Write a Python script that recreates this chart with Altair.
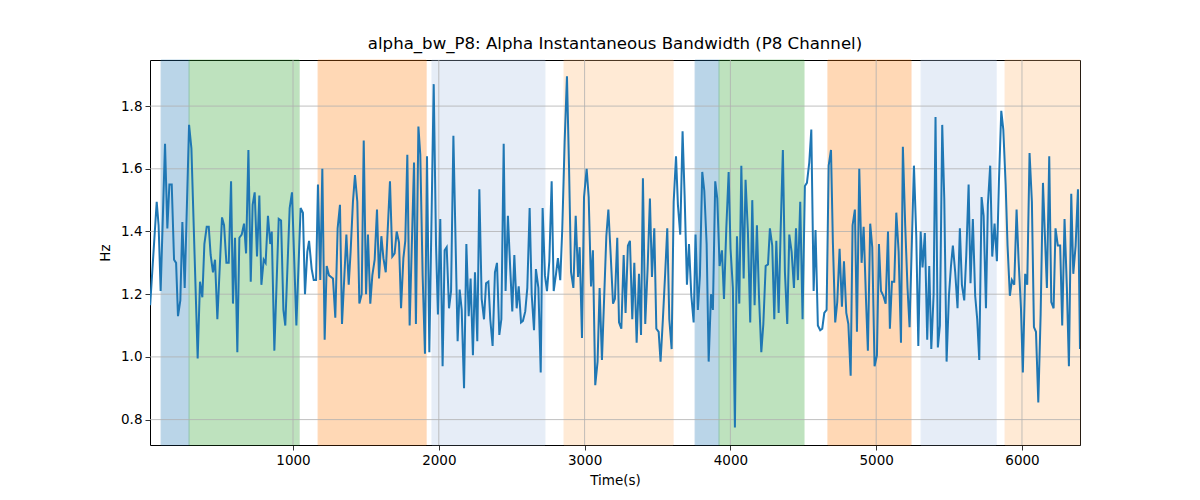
import altair as alt
import pandas as pd

# ---- data ----
time_s = [
    20, 65, 78, 92, 122, 138, 152, 168, 184, 198, 211, 227, 241, 257, 287, 303, 346, 362, 378, 392,
    408, 422, 435, 451, 465, 481, 513, 527, 543, 559, 575, 588, 602, 618, 632, 648, 664, 678, 694, 710,
    723, 737, 753, 769, 783, 799, 812, 828, 844, 854, 872, 902, 918, 934, 947, 977, 993, 1023, 1052, 1068,
    1082, 1098, 1110, 1128, 1142, 1158, 1171, 1187, 1201, 1217, 1231, 1247, 1261, 1274, 1290, 1306, 1322, 1336, 1366, 1382,
    1395, 1411, 1425, 1441, 1455, 1471, 1485, 1501, 1514, 1530, 1544, 1560, 1576, 1590, 1606, 1620, 1636, 1665, 1681, 1697,
    1711, 1727, 1741, 1757, 1770, 1784, 1800, 1830, 1843, 1860, 1873, 1889, 1905, 1919, 1935, 1965, 1981, 1994, 2010, 2026,
    2040, 2054, 2070, 2084, 2100, 2129, 2143, 2157, 2173, 2189, 2205, 2218, 2234, 2248, 2264, 2278, 2294, 2310, 2324, 2340,
    2353, 2369, 2385, 2399, 2415, 2429, 2445, 2458, 2474, 2490, 2504, 2518, 2534, 2548, 2564, 2577, 2593, 2607, 2623, 2637,
    2653, 2666, 2683, 2699, 2712, 2728, 2742, 2758, 2774, 2788, 2804, 2817, 2833, 2847, 2863, 2879, 2893, 2907, 2923, 2939,
    2955, 2966, 2982, 2996, 3014, 3028, 3044, 3057, 3073, 3089, 3103, 3119, 3149, 3163, 3179, 3195, 3208, 3224, 3236, 3252,
    3268, 3281, 3297, 3311, 3327, 3341, 3357, 3373, 3387, 3400, 3416, 3432, 3448, 3462, 3478, 3492, 3508, 3521, 3537, 3553,
    3567, 3581, 3597, 3611, 3627, 3640, 3656, 3672, 3686, 3702, 3716, 3732, 3748, 3761, 3777, 3791, 3807, 3821, 3837, 3851,
    3867, 3880, 3896, 3910, 3926, 3942, 3956, 3972, 3988, 4001, 4017, 4031, 4045, 4061, 4075, 4091, 4104, 4120, 4136, 4150,
    4166, 4182, 4196, 4212, 4226, 4242, 4258, 4271, 4287, 4301, 4315, 4331, 4344, 4360, 4374, 4390, 4404, 4420, 4436, 4450,
    4463, 4479, 4495, 4511, 4525, 4541, 4555, 4571, 4584, 4600, 4616, 4630, 4644, 4660, 4674, 4690, 4703, 4719, 4733, 4749,
    4765, 4779, 4795, 4809, 4825, 4838, 4854, 4868, 4884, 4900, 4914, 4930, 4943, 4959, 4973, 4989, 5005, 5019, 5033, 5049,
    5065, 5081, 5094, 5108, 5124, 5138, 5154, 5170, 5183, 5199, 5215, 5229, 5245, 5259, 5275, 5289, 5305, 5318, 5334, 5350,
    5364, 5378, 5394, 5407, 5423, 5437, 5453, 5467, 5483, 5499, 5513, 5526, 5542, 5558, 5574, 5588, 5604, 5618, 5634, 5647,
    5663, 5679, 5693, 5707, 5723, 5737, 5753, 5766, 5782, 5796, 5812, 5828, 5842, 5858, 5872, 5888, 5901, 5917, 5931, 5947,
    5963, 5977, 5993, 6006, 6022, 6036, 6052, 6068, 6082, 6096, 6112, 6128, 6144, 6157, 6171, 6187, 6201, 6217, 6230, 6246,
    6262, 6276, 6292, 6308, 6322, 6338, 6352, 6368, 6384, 6398,
]

bandwidth_hz = [
    1.165, 1.495, 1.42, 1.21, 1.68, 1.41, 1.55, 1.55, 1.31, 1.30, 1.13, 1.18, 1.43, 1.22, 1.74, 1.665, 0.995, 1.24, 1.19, 1.36,
    1.415, 1.415, 1.325, 1.27, 1.31, 1.12, 1.445, 1.42, 1.30, 1.30, 1.56, 1.17, 1.38, 1.015, 1.38, 1.39, 1.425, 1.33, 1.66, 1.24,
    1.485, 1.525, 1.32, 1.515, 1.23, 1.31, 1.30, 1.45, 1.36, 1.40, 1.02, 1.44, 1.435, 1.15, 1.10, 1.475, 1.525, 1.10, 1.475, 1.46,
    1.20, 1.335, 1.37, 1.28, 1.245, 1.245, 1.55, 1.245, 1.60, 1.055, 1.29, 1.26, 1.255, 1.25, 1.125, 1.41, 1.485, 1.105, 1.39, 1.23,
    1.335, 1.495, 1.58, 1.495, 1.17, 1.20, 1.69, 1.20, 1.39, 1.17, 1.26, 1.31, 1.47, 1.25, 1.385, 1.315, 1.27, 1.56, 1.32, 1.33,
    1.40, 1.365, 1.155, 1.315, 1.37, 1.645, 1.10, 1.62, 1.105, 1.735, 1.645, 1.26, 1.01, 1.64, 1.015, 1.87, 1.355, 1.135, 1.44, 0.97,
    1.34, 1.35, 1.155, 1.21, 1.705, 1.05, 1.215, 1.15, 0.90, 1.36, 1.13, 1.25, 1.005, 1.27, 1.05, 1.535, 1.185, 1.12, 1.235, 1.24,
    1.12, 1.035, 1.27, 1.30, 1.07, 1.12, 1.68, 1.21, 1.45, 1.28, 1.145, 1.325, 1.155, 1.225, 1.11, 1.115, 1.145, 1.22, 1.475, 1.20,
    1.085, 1.28, 1.22, 0.95, 1.475, 1.26, 1.21, 1.305, 1.56, 1.21, 1.265, 1.315, 1.245, 1.41, 1.685, 1.895, 1.61, 1.27, 1.22, 1.45,
    1.255, 1.35, 1.06, 1.51, 1.60, 1.51, 1.225, 1.34, 0.91, 0.985, 1.22, 0.99, 1.385, 1.47, 1.325, 1.17, 1.185, 1.38, 1.11, 1.09,
    1.325, 1.14, 1.355, 1.37, 1.12, 1.30, 1.045, 1.265, 1.07, 1.57, 1.105, 1.28, 1.505, 1.255, 1.41, 1.09, 1.08, 0.985, 1.12, 1.27,
    1.41, 1.12, 1.025, 1.495, 1.64, 1.485, 1.39, 1.72, 1.515, 1.23, 1.36, 1.195, 1.11, 1.39, 1.15, 1.26, 1.59, 1.53, 1.36, 0.985,
    1.20, 1.15, 1.56, 1.505, 1.29, 1.34, 1.185, 1.41, 1.59, 1.345, 1.22, 0.775, 1.385, 1.17, 1.61, 1.25, 1.565, 1.40, 1.11, 1.50,
    1.165, 1.42, 1.195, 1.015, 1.105, 1.29, 1.295, 1.41, 1.355, 1.12, 1.37, 1.14, 1.39, 1.66, 1.27, 1.105, 1.39, 1.335, 1.22, 1.41,
    1.245, 1.495, 1.12, 1.545, 1.555, 1.62, 1.725, 1.21, 1.405, 1.10, 1.085, 1.09, 1.14, 1.15, 1.61, 1.66, 1.365, 1.11, 1.175, 1.345,
    1.16, 1.305, 1.14, 1.105, 0.94, 1.42, 1.47, 1.08, 1.60, 1.30, 1.415, 1.185, 1.02, 1.425, 1.35, 0.97, 1.005, 1.36, 1.21, 1.195,
    1.17, 1.40, 1.09, 1.24, 1.24, 1.46, 1.335, 1.045, 1.67, 1.42, 1.22, 1.095, 1.37, 1.61, 1.385, 1.035, 1.40, 1.285, 1.395, 1.055,
    1.29, 1.025, 1.20, 1.765, 1.03, 1.10, 1.74, 1.505, 0.985, 1.195, 1.29, 1.355, 1.27, 1.155, 1.41, 1.23, 1.18, 1.325, 1.55, 1.235,
    1.44, 1.195, 1.12, 0.99, 1.51, 1.45, 1.155, 1.485, 1.61, 1.32, 1.425, 1.305, 1.56, 1.785, 1.725, 1.55, 1.355, 1.195, 1.245, 1.23,
    1.47, 1.305, 1.155, 0.95, 1.265, 1.23, 1.65, 1.495, 1.095, 1.08, 0.855, 1.135, 1.555, 1.39, 1.22, 1.64, 1.175, 1.155, 1.41, 1.355,
    1.355, 1.10, 1.44, 1.22, 0.97, 1.52, 1.265, 1.355, 1.535, 1.025,
]

span_start = [95, 287, 1172, 1953, 2859, 3758, 3922, 4669, 5308, 5884]
span_end = [287, 1042, 1913, 2728, 3607, 3922, 4505, 5239, 5823, 6398]
span_color = ["#1f77b4", "#2ca02c", "#ff7f0e", "#aec7e8", "#ffbb78",
              "#1f77b4", "#2ca02c", "#ff7f0e", "#aec7e8", "#ffbb78"]

x_ticks = [1000, 2000, 3000, 4000, 5000, 6000]
y_ticks = [0.8, 1.0, 1.2, 1.4, 1.6, 1.8]
x_domain = [19, 6398]
y_domain = [0.719, 1.947]

line_df = pd.DataFrame({"t": time_s, "hz": bandwidth_hz})
span_df = pd.DataFrame({"start": span_start, "end": span_end, "color": span_color})
xgrid_df = pd.DataFrame({"xv": x_ticks})
ygrid_df = pd.DataFrame({"yv": y_ticks})

FONT = "DejaVu Sans"
GRID = "#b0b0b0"

x_scale = alt.Scale(domain=x_domain, nice=False, zero=False)
y_scale = alt.Scale(domain=y_domain, nice=False, zero=False)
x_axis = alt.Axis(values=x_ticks, format="d", title="Time(s)", grid=False)
y_axis = alt.Axis(values=y_ticks, format=".1f", title="Hz", grid=False)

spans = alt.Chart(span_df).mark_rect(opacity=0.3, strokeWidth=1).encode(
    x=alt.X("start:Q", scale=x_scale, axis=x_axis),
    x2="end:Q",
    y=alt.value(0),
    y2=alt.value(385),
    fill=alt.Fill("color:N", scale=None),
    stroke=alt.Stroke("color:N", scale=None),
)

xgrid = alt.Chart(xgrid_df).mark_rule(color=GRID, strokeWidth=0.8).encode(
    x=alt.X("xv:Q", scale=x_scale, axis=x_axis),
    y=alt.value(0),
    y2=alt.value(385),
)

ygrid = alt.Chart(ygrid_df).mark_rule(color=GRID, strokeWidth=0.8).encode(
    y=alt.Y("yv:Q", scale=y_scale, axis=y_axis),
    x=alt.value(0),
    x2=alt.value(930),
)

line = alt.Chart(line_df).mark_line(color="#1f77b4", strokeWidth=2.0, clip=True).encode(
    x=alt.X("t:Q", scale=x_scale, axis=x_axis),
    y=alt.Y("hz:Q", scale=y_scale, axis=y_axis),
)

chart = alt.layer(spans, xgrid, ygrid, line).properties(
    width=930,
    height=385,
    title=alt.TitleParams(
        "alpha_bw_P8: Alpha Instantaneous Bandwidth (P8 Channel)",
        font=FONT, fontSize=16.6, fontWeight="normal", color="black", offset=7,
    ),
    autosize=alt.AutoSizeParams(type="none"),
    padding={"left": 142, "top": 52, "right": 110, "bottom": 47},
).configure_view(
    stroke="black", strokeWidth=1,
).configure_axis(
    domain=False,
    tickColor="black", tickSize=5, tickWidth=0.8,
    labelFont=FONT, labelFontSize=13.5, labelColor="black", labelPadding=3,
    titleFont=FONT, titleFontSize=13.5, titleColor="black", titleFontWeight="normal",
).configure_axisX(
    titlePadding=7,
).configure_axisY(
    titlePadding=8,
)

chart.save("out.html", embed_options={"renderer": "svg", "actions": False})
